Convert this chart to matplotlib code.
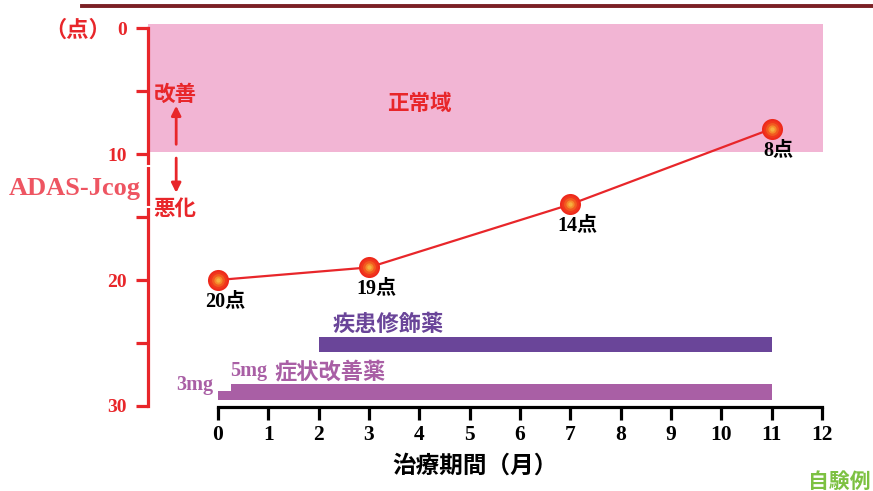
import matplotlib.pyplot as plt
from matplotlib.lines import Line2D

# ADAS-Jcog score over treatment months
months = [0, 3, 7, 11]
scores = [20, 19, 14, 8]
score_labels = ["20点", "19点", "14点", "8点"]

# treatment periods (months)
dmt_start, dmt_end = 2, 11          # 疾患修飾薬
sym_3mg_start, sym_3mg_end = 0, 0.25
sym_5mg_start, sym_5mg_end = 0.25, 11  # 症状改善薬

normal_top, normal_bottom = -0.3, 9.85   # 正常域
x_ticks = list(range(0, 13))
y_major = [0, 10, 20, 30]
y_minor = [5, 15, 25]

RED = "#E8262A"
PINK = "#F2B5D4"
DMT_COL = "#6A4599"
SYM_COL = "#A95FA5"
SERIF = ["Liberation Serif", "Noto Sans CJK JP"]
CJK = ["Noto Sans CJK JP", "DejaVu Sans"]

W, H = 873, 491
fig = plt.figure(figsize=(W / 100, H / 100), dpi=100)
ax = fig.add_axes([148 / W, (H - 407) / H, 684 / W, 384 / H])
ax.set_xlim(-1.39, 12.2)
ax.set_ylim(30.08, -0.4)

# normal range band
ax.fill_between([-1.39, 12.02], normal_top, normal_bottom, color=PINK, lw=0, zorder=0)

# score line + gradient-ish markers
ax.plot(months, scores, color=RED, lw=1.6, zorder=3)
for s, c in [(230, "#EE2A1C"), (150, "#F0381C"), (85, "#F25A20"), (35, "#F58A2C"), (10, "#F6B040")]:
    ax.scatter(months, scores, s=s, color=c, lw=0, zorder=4)
for m, v, lab in zip(months, scores, score_labels):
    ax.annotate(lab, (m, v), xytext=(7, -21), textcoords="offset pixels",
                ha="center", va="center", fontsize=14.5, fontweight="bold",
                family=SERIF, color="black")

# treatment bars
ax.barh(25.1, dmt_end - dmt_start, left=dmt_start, height=1.2, color=DMT_COL, zorder=2)
ax.barh(28.875, sym_5mg_end - sym_5mg_start, left=sym_5mg_start, height=1.25,
        color=SYM_COL, zorder=2)
ax.barh(29.15, sym_3mg_end - sym_3mg_start, left=sym_3mg_start, height=0.7,
        color=SYM_COL, zorder=2)

ax.text(2.28, 23.5, "疾患修飾薬", family=CJK, fontweight="bold", fontsize=16,
        color=DMT_COL, ha="left", va="center")
ax.text(0.24, 27.2, "5mg", family=SERIF, fontweight="bold", fontsize=14.5,
        color=SYM_COL, ha="left", va="center")
ax.text(1.13, 27.3, "症状改善薬", family=CJK, fontweight="bold", fontsize=16,
        color=SYM_COL, ha="left", va="center")
ax.text(-0.1, 28.3, "3mg", family=SERIF, fontweight="bold", fontsize=14.5,
        color=SYM_COL, ha="right", va="center")

ax.text(4.01, 5.95, "正常域", family=CJK, fontweight="bold", fontsize=15.5,
        color=RED, ha="center", va="center")
ax.text(-0.85, 5.3, "改善", family=CJK, fontweight="bold", fontsize=15.5,
        color=RED, ha="center", va="center")
ax.text(-0.85, 14.3, "悪化", family=CJK, fontweight="bold", fontsize=15.5,
        color=RED, ha="center", va="center")
ax.annotate("", xy=(-0.83, 5.95), xytext=(-0.83, 9.45),
            arrowprops=dict(arrowstyle="-|>", color=RED, lw=2, mutation_scale=14))
ax.annotate("", xy=(-0.83, 13.3), xytext=(-0.83, 10.1),
            arrowprops=dict(arrowstyle="-|>", color=RED, lw=2, mutation_scale=14))

# axes styling
for side in ["top", "right"]:
    ax.spines[side].set_visible(False)
ax.spines["left"].set_color(RED)
ax.spines["left"].set_linewidth(2.3)
ax.spines["left"].set_bounds(0, 30)
ax.spines["bottom"].set_color("black")
ax.spines["bottom"].set_linewidth(2.3)
ax.spines["bottom"].set_bounds(0, 12)

ax.set_yticks(y_major)
ax.set_yticks(y_minor, minor=True)
ax.set_yticklabels([str(v) for v in y_major], family="Liberation Serif",
                   fontweight="bold", fontsize=14, color=RED)
ax.tick_params(axis="y", which="both", colors=RED, length=9, width=2.3, pad=6)
ax.set_xticks(x_ticks)
ax.set_xticklabels([str(v) for v in x_ticks], family="Liberation Serif",
                   fontweight="bold", fontsize=15.5)
ax.tick_params(axis="x", length=9, width=2.3, pad=4)

ax.set_xlabel("治療期間（月）", family=CJK, fontweight="bold", fontsize=17)
ax.xaxis.set_label_coords((475 - 148) / 684, -(466 - 407) / 384, transform=ax.transAxes)
ax.xaxis.label.set_va("center")

# figure-level decoration
fig.add_artist(Line2D([82 / W, 1], [1 - 6 / H, 1 - 6 / H], color="#7B2025", lw=2.8))
for yp in [166, 207]:
    fig.add_artist(Line2D([143 / W, 153 / W], [1 - yp / H, 1 - yp / H], color="white", lw=1.5))
fig.text(78 / W, 1 - 30 / H, "（点）", family=CJK, fontweight="bold", fontsize=16,
         color=RED, ha="center", va="center")
fig.text(75 / W, 1 - 188 / H, "ADAS-Jcog", family="Liberation Serif", fontweight="bold",
         fontsize=19, color="#EE5562", ha="center", va="center")
fig.text(871 / W, 1 - 481 / H, "自験例", family=CJK, fontweight="bold", fontsize=15,
         color="#7DC142", ha="right", va="center")

fig.savefig("out.png", dpi=100)
